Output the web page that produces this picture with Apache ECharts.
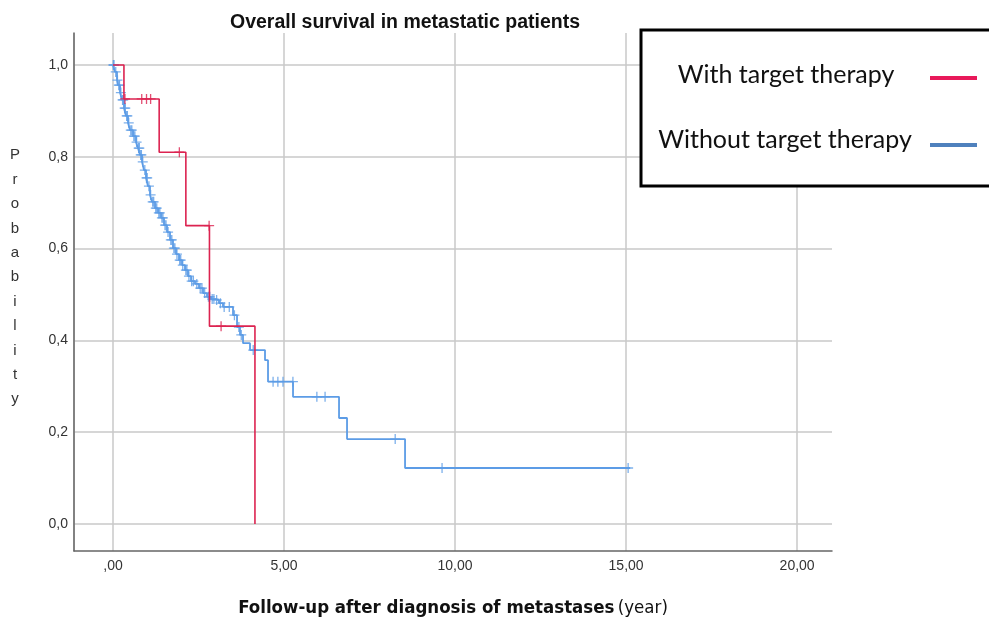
<!DOCTYPE html>
<html>
<head>
<meta charset="utf-8">
<script src="https://cdn.jsdelivr.net/npm/echarts@6/dist/echarts.min.js"></script>
<style>html,body{margin:0;padding:0;background:#fff}#c{width:989px;height:621px}</style>
</head>
<body>
<div id="c"></div>
<script>
// Series names
const seriesNames = ['With target therapy', 'Without target therapy'];
// Kaplan-Meier steps: [time (years), survival after event]
const withSteps = [[0,1.0],[0.32,0.926],[1.35,0.81],[2.13,0.65],[2.82,0.431],[4.15,0]];
const withCensored = [[0.35,0.926],[0.84,0.926],[0.98,0.926],[1.10,0.926],[1.94,0.81],[2.81,0.65],[3.16,0.431]];
const withoutSteps = [[0,1.0],[0.058,0.985],[0.117,0.967],[0.146,0.956],[0.205,0.94],[0.263,0.924],[0.322,0.906],[0.380,0.889],[0.439,0.874],[0.497,0.858],[0.585,0.845],[0.673,0.832],[0.731,0.819],[0.789,0.804],[0.848,0.789],[0.906,0.771],[0.965,0.754],[1.023,0.736],[1.082,0.717],[1.140,0.702],[1.228,0.688],[1.316,0.678],[1.404,0.667],[1.491,0.651],[1.579,0.636],[1.667,0.619],[1.754,0.601],[1.842,0.588],[1.930,0.575],[2.018,0.564],[2.105,0.553],[2.193,0.540],[2.281,0.529],[2.398,0.523],[2.515,0.514],[2.632,0.503],[2.749,0.495],[2.865,0.49],[2.982,0.488],[3.099,0.481],[3.216,0.473],[3.509,0.455],[3.626,0.429],[3.713,0.412],[3.801,0.394],[4.006,0.379],[4.444,0.357],[4.532,0.31],[5.263,0.277],[6.608,0.231],[6.842,0.185],[8.538,0.122],[15.12,0.122]];
const withoutCensored = [[0.01,1.0],[0.03,1.0],[0.08,0.985],[0.13,0.967],[0.17,0.956],[0.19,0.956],[0.23,0.94],[0.28,0.924],[0.3,0.924],[0.34,0.906],[0.36,0.906],[0.40,0.889],[0.42,0.889],[0.46,0.874],[0.52,0.858],[0.55,0.858],[0.61,0.845],[0.64,0.845],[0.69,0.832],[0.75,0.819],[0.77,0.819],[0.81,0.804],[0.83,0.804],[0.87,0.789],[0.93,0.771],[0.98,0.754],[1.0,0.754],[1.05,0.736],[1.10,0.717],[1.16,0.702],[1.19,0.702],[1.25,0.688],[1.28,0.688],[1.34,0.678],[1.37,0.678],[1.43,0.667],[1.46,0.667],[1.52,0.651],[1.55,0.651],[1.61,0.636],[1.69,0.619],[1.72,0.619],[1.78,0.601],[1.81,0.601],[1.87,0.588],[1.95,0.575],[1.98,0.575],[2.04,0.564],[2.13,0.553],[2.16,0.553],[2.22,0.540],[2.30,0.529],[2.35,0.529],[2.45,0.523],[2.55,0.514],[2.60,0.514],[2.68,0.503],[2.79,0.495],[2.83,0.495],[2.90,0.49],[2.95,0.49],[3.03,0.488],[3.14,0.481],[3.25,0.473],[3.40,0.473],[3.55,0.455],[3.68,0.429],[3.75,0.412],[4.1,0.379],[4.68,0.31],[4.82,0.31],[4.97,0.31],[5.26,0.31],[5.96,0.277],[6.2,0.277],[8.25,0.185],[9.62,0.122],[15.06,0.122]];

const RED = '#DC2350', BLUE = '#5C9CE6';
const PLUS = 'path://M-0.13,-1H0.13V-0.13H1V0.13H0.13V1H-0.13V0.13H-1V-0.13H-0.13Z';

const chart = echarts.init(document.getElementById('c'), null, {renderer: 'canvas'});
chart.setOption({
  animation: false,
  backgroundColor: '#fff',
  title: {
    text: 'Overall survival in metastatic patients',
    left: 225, top: 8,
    textStyle: {fontFamily: 'Liberation Sans', fontWeight: 'bold', fontSize: 19.5, color: '#111'}
  },
  grid: {left: 74, right: 157, top: 33, bottom: 70, outerBoundsMode: 'none', containLabel: false},
  xAxis: {
    type: 'value', min: -1.14, max: 21.02, splitNumber: 5,
    axisLine: {show: true, onZero: false, lineStyle: {color: '#666', width: 1.5}},
    axisTick: {show: false},
    splitLine: {show: true, showMaxLine: false, lineStyle: {color: '#c8c8c8', width: 1.5}},
    axisLabel: {
      showMinLabel: false, showMaxLabel: false, margin: 8,
      color: '#333', fontFamily: 'Liberation Sans', fontSize: 14,
      formatter: v => { if (Math.abs(v/5 - Math.round(v/5)) > 1e-6) return ''; return v === 0 ? ',00' : v.toFixed(2).replace('.', ','); }
    },
    name: '{b|Follow-up after diagnosis of metastases} {n|(year)}',
    nameLocation: 'middle', nameGap: 48,
    nameTextStyle: {
      rich: {
        b: {fontFamily: 'DejaVu Sans Condensed', fontWeight: 'bold', fontSize: 18.5, color: '#111'},
        n: {fontFamily: 'DejaVu Sans Condensed', fontSize: 18.5, color: '#111'}
      }
    }
  },
  yAxis: {
    type: 'value', min: -0.0588, max: 1.0697, splitNumber: 5,
    axisLine: {show: true, onZero: false, lineStyle: {color: '#666', width: 1.5}},
    axisTick: {show: false},
    splitLine: {show: true, showMinLine: false, showMaxLine: false, lineStyle: {color: '#c8c8c8', width: 1.5}},
    axisLabel: {
      showMinLabel: false, showMaxLabel: false, margin: 6,
      color: '#333', fontFamily: 'Liberation Sans', fontSize: 14,
      formatter: v => { if (Math.abs(v/0.2 - Math.round(v/0.2)) > 1e-6) return ''; return v.toFixed(1).replace('.', ','); }
    }
  },
  series: [
    {name: seriesNames[1], type: 'line', step: 'end', data: withoutSteps, showSymbol: false,
     lineStyle: {color: BLUE, width: 1.8}, z: 2},
    {name: seriesNames[1] + ' censored', type: 'scatter', data: withoutCensored, symbol: PLUS, symbolSize: 10,
     itemStyle: {color: BLUE}, z: 3},
    {name: seriesNames[0], type: 'line', step: 'end', data: withSteps, showSymbol: false,
     lineStyle: {color: RED, width: 1.6}, z: 4},
    {name: seriesNames[0] + ' censored', type: 'scatter', data: withCensored, symbol: PLUS, symbolSize: 10,
     itemStyle: {color: RED}, z: 5}
  ],
  graphic: [
    {type: 'text', x: 15, y: 143, z: 10,
     style: {text: 'P\nr\no\nb\na\nb\ni\nl\ni\nt\ny', fill: '#333', font: '15px "Liberation Sans"', align: 'center', lineHeight: 24.4}},
    {type: 'rect', shape: {x: 641, y: 30, width: 360, height: 156}, z: 20,
     style: {fill: '#fff', stroke: '#000', lineWidth: 3}},
    {type: 'text', x: 786, y: 75, z: 21,
     style: {text: seriesNames[0], fill: '#111', font: '25px Lato', align: 'center', verticalAlign: 'middle'}},
    {type: 'text', x: 785, y: 140, z: 21,
     style: {text: seriesNames[1], fill: '#111', font: '25px Lato', align: 'center', verticalAlign: 'middle'}},
    {type: 'line', shape: {x1: 930, y1: 78, x2: 977, y2: 78}, z: 21, style: {stroke: '#E8195A', lineWidth: 4}},
    {type: 'line', shape: {x1: 930, y1: 145, x2: 977, y2: 145}, z: 21, style: {stroke: '#4F81BD', lineWidth: 4}}
  ]
});
</script>
</body>
</html>
